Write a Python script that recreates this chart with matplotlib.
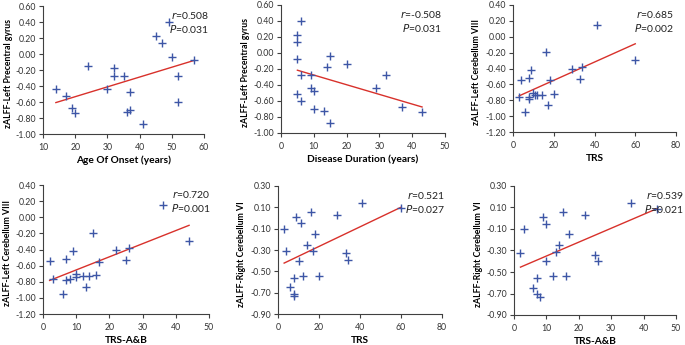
import numpy as np
import matplotlib as mpl
mpl.use('Agg')
from matplotlib import pyplot as plt
from matplotlib.ticker import MultipleLocator, FixedLocator, FuncFormatter

# ---------------------------------------------------------------- data
onset_x = [14, 17, 19, 20, 24, 30, 32, 32, 35, 36, 37, 37, 41, 45, 47, 49, 50, 52, 52, 57]
onset_y = [-0.44, -0.52, -0.67, -0.74, -0.15, -0.44, -0.18, -0.28, -0.27, -0.72,
           -0.47, -0.70, -0.88, 0.23, 0.14, 0.40, -0.04, -0.27, -0.60, -0.07]

dur_x = [5, 5, 5, 5, 6, 6, 6, 9, 9, 10, 10, 13, 14, 15, 15, 20, 29, 32, 37, 43]
dur_y = [0.23, 0.14, -0.07, -0.51, 0.40, -0.27, -0.60, -0.28, -0.44, -0.47,
         -0.70, -0.72, -0.18, -0.04, -0.88, -0.14, -0.44, -0.27, -0.67, -0.74]

trs_x = [3, 4, 6, 8, 8, 8, 9, 10, 11, 12, 14, 16, 17, 18, 20, 29, 33, 34, 41, 60]
trs_l8_y = [-0.76, -0.54, -0.95, -0.52, -0.76, -0.78, -0.42, -0.71, -0.74, -0.74,
            -0.74, -0.19, -0.86, -0.55, -0.72, -0.40, -0.53, -0.38, 0.15, -0.29]

trsab_x = [2, 3, 6, 7, 7, 8, 9, 10, 10, 12, 13, 14, 15, 16, 17, 22, 25, 26, 36, 44]
trsab_l8_y = [-0.54, -0.76, -0.95, -0.52, -0.78, -0.76, -0.42, -0.70, -0.74, -0.73,
              -0.86, -0.73, -0.19, -0.72, -0.55, -0.40, -0.53, -0.38, 0.15, -0.30]

trs_r6_x = [3, 4, 6, 8, 8, 8, 9, 10, 11, 12, 14, 16, 17, 18, 20, 29, 33, 34, 41, 60]
trs_r6_y = [-0.10, -0.31, -0.65, -0.56, -0.71, -0.73, 0.01, -0.40, -0.05, -0.54,
            -0.25, 0.06, -0.31, -0.15, -0.54, 0.03, -0.33, -0.39, 0.14, 0.09]

trsab_r6_x = [2, 3, 6, 7, 7, 8, 9, 10, 10, 12, 13, 14, 15, 16, 17, 22, 25, 26, 36, 44]
trsab_r6_y = [-0.32, -0.10, -0.65, -0.56, -0.70, -0.73, 0.01, -0.05, -0.40, -0.54,
              -0.31, -0.25, 0.06, -0.54, -0.15, 0.03, -0.34, -0.40, 0.14, 0.09]

stats_r = ['0.508', '-0.508', '0.685', '0.720', '0.521', '0.539']
stats_p = ['0.031', '0.031', '0.002', '0.001', '0.027', '0.021']

xlabels = ['Age Of Onset (years)', 'Disease Duration (years)', 'TRS',
           'TRS-A&B', 'TRS', 'TRS-A&B']
ylabels = ['zALFF-Left Precentral gyrus', 'zALFF-Left Precentral gyrus',
           'zALFF-Left Cerebellum VIII', 'zALFF-Left Cerebellum VIII',
           'zALFF-Right Cerebellum VI', 'zALFF-Right Cerebellum VI']

# ---------------------------------------------------------------- layout
W, H = 685.0, 345.0
# (left, right, top, bottom) in pixels
boxes = [(43, 204, 6, 134), (281, 445, 5, 133), (513, 676, 5, 132),
         (43, 209, 185, 314), (278, 442, 186, 314), (514, 676, 186, 315)]
# right edge (px) of the rotated y label
ylabx = [13, 250, 481, 12, 246, 483]
xlims = [(10, 60), (0, 50), (0, 80), (0, 50), (0, 80), (0, 50)]
xsteps = [10, 10, 20, 10, 20, 10]
ylims = [(-1.0, 0.6), (-1.0, 0.6), (-1.2, 0.4), (-1.2, 0.4), (-0.9, 0.3), (-0.9, 0.3)]
txtx = [1.03, 0.98, 0.99, 1.01, 1.02, 1.05]

panels = [(onset_x, onset_y), (dur_x, dur_y), (trs_x, trs_l8_y),
          (trsab_x, trsab_l8_y), (trs_r6_x, trs_r6_y), (trsab_r6_x, trsab_r6_y)]

plt.rcParams['font.family'] = ['Lato', 'DejaVu Sans']

blue = '#3d56a6'
red = '#d8312b'

f = plt.figure(figsize=(W / 100.0, H / 100.0), dpi=100)

for i, (xs, ys) in enumerate(panels):
    l, r, t, b = boxes[i]
    ax = f.add_axes([l / W, 1 - b / H, (r - l) / W, (b - t) / H])

    xs = np.array(xs, dtype=float)
    ys = np.array(ys, dtype=float)
    ax.plot(xs, ys, linestyle='none', marker='+', markersize=5.5,
            markeredgewidth=1.0, color=blue, clip_on=False, zorder=3)

    # least squares trend line
    k, d = np.polyfit(xs, ys, 1)
    xx = np.array([xs.min(), xs.max()])
    ax.plot(xx, k * xx + d, color=red, lw=1.0, zorder=2)

    y0, y1 = ylims[i]
    ax.set_xlim(*xlims[i])
    ax.set_ylim(y0, y1)
    ax.xaxis.set_major_locator(MultipleLocator(xsteps[i]))
    ax.yaxis.set_major_locator(FixedLocator(np.arange(y0, y1 + 0.01, 0.2)))
    ax.yaxis.set_major_formatter(FuncFormatter(lambda v, p: '%.2f' % (round(v, 2) + 0.0)))

    for s in ['top', 'right']:
        ax.spines[s].set_visible(False)
    for s in ['left', 'bottom']:
        ax.spines[s].set_linewidth(0.8)
        ax.spines[s].set_color('#404040')

    ax.tick_params('both', direction='out', length=3.2, width=0.8,
                   labelsize=6.3, colors='#404040', labelcolor='#333333')
    ax.tick_params(axis='y', pad=2)
    ax.tick_params(axis='x', pad=3)

    ax.set_xlabel(xlabels[i], fontsize=7.3, fontweight='bold', labelpad=3)
    ax.set_ylabel(ylabels[i], fontsize=6.3, fontweight='bold')
    ax.yaxis.set_label_coords((ylabx[i] - l) / float(r - l), 0.47)

    ax.text(txtx[i], 0.97, r'$\it{r}$=' + stats_r[i], transform=ax.transAxes,
            ha='right', va='top', fontsize=7.5, color='#222222')
    ax.text(txtx[i], 0.87, r'$\it{P}$=' + stats_p[i], transform=ax.transAxes,
            ha='right', va='top', fontsize=7.5, color='#222222')

f.savefig('out.png', dpi=100, facecolor='white')
plt.close(f)
